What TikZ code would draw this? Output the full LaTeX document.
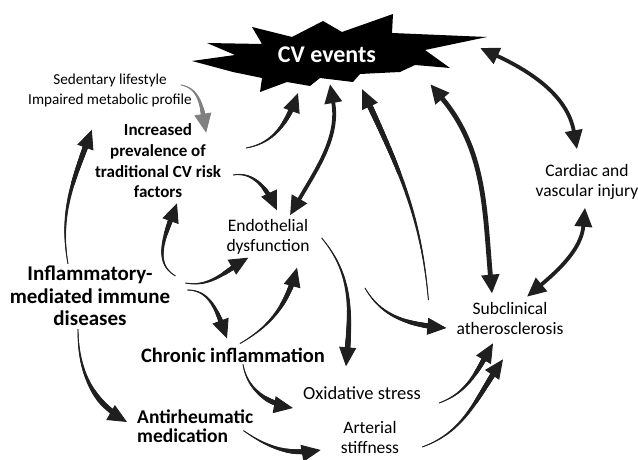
\documentclass[tikz,border=0pt]{standalone}
\usepackage{fontspec}
\setmainfont{Carlito}
\usetikzlibrary{arrows.meta,decorations.markings}

\begin{document}
\begin{tikzpicture}[x=1pt,y=1pt,
    lbl/.style={align=center, inner sep=0pt, font=\fontsize{17.5}{20}\selectfont},
    blbl/.style={align=center, inner sep=0pt, font=\bfseries\fontsize{17}{20.7}\selectfont},
    swoosh/.style={draw=#1, line width=0.9pt, -{Triangle[length=19pt,width=17pt]},
      postaction={decorate, decoration={markings,
        mark=between positions 0 and 1 step 0.7pt with {
          \pgfmathsetmacro\swd{\pgfkeysvalueof{/pgf/decoration/mark info/distance from start}}
          \pgfmathsetmacro\swl{\pgfdecoratedpathlength}
          \pgfmathsetmacro\swr{0.3+2.9*\swd/\swl}
          \ifdim\swd pt<\dimexpr\swl pt-14pt\relax \fill [#1] (0,0) circle (\swr pt);\fi}}}},
    swoosh/.default=black!88,
    dswoosh/.style={draw=black!88, line width=3.8pt,
      {Triangle[length=19pt,width=17pt]}-{Triangle[length=19pt,width=17pt]}}]
    \useasboundingbox (0,0) rectangle (638,460);
    % CV events burst
    \fill [black] (192,399) -- (235,405) -- (207,417) -- (262,416) -- (252,433) -- (292,423)
      -- (323,439) -- (342,428) -- (393,446) -- (392,427) -- (487,423) -- (425,410)
      -- (450,392) -- (415,395) -- (400,388) -- (360,386) -- (353,378) -- (320,382)
      -- (310,374) -- (287,378) -- (260,368) -- (262,382) -- (233,388) -- cycle;
    \node [text=white, inner sep=0pt, font=\bfseries\fontsize{24}{28}\selectfont] (cv) at (327,405) {CV events};
    \node [lbl, font=\fontsize{15.2}{20}\selectfont] (sed) at (110,370) {Sedentary lifestyle\\Impaired metabolic profile};
    \node [blbl] (risk) at (158,299) {Increased\\prevalence of\\traditional CV risk\\factors};
    \node [lbl] (endo) at (268,223) {Endothelial\\dysfunction};
    \node [blbl, font=\bfseries\fontsize{21}{22.5}\selectfont] (imid) at (90,164) {Inflammatory-\\mediated immune\\diseases};
    \node [blbl, font=\bfseries\fontsize{20.5}{22}\selectfont] (chronic) at (233,105) {Chronic inflammation};
    \node [blbl, align=left, anchor=west, font=\bfseries\fontsize{19.5}{19}\selectfont] (anti) at (137,34) {Antirheumatic\\medication};
    \node [lbl, font=\fontsize{18.5}{20}\selectfont] (ox) at (362,67) {Oxidative stress};
    \node [lbl] (art) at (370,23) {Arterial\\stiffness};
    \node [lbl] (sub) at (510,142) {Subclinical\\atherosclerosis};
    \node [lbl] (card) at (587,278) {Cardiac and\\vascular injury};
    \coordinate (fork) at (365,172);
    % arrows
    \draw [swoosh] ([shift={(-22,2)}]imid.north) to[out=100,in=250] ([shift={(-3,-6)}]risk.north west);
    \draw [swoosh=black!50] ([shift={(-11,5)}]sed.east) to[out=-10,in=100] ([shift={(-15,-9)}]risk.north east);
    \draw [swoosh] ([shift={(25,13)}]risk.east) to[out=10,in=250] ([shift={(-29,-30)}]cv.south);
    \draw [swoosh] ([shift={(12,-14)}]risk.east) to[out=10,in=115] ([shift={(9,9)}]endo.north);
    \draw [dswoosh] ([shift={(22,4)}]endo.north) to[out=60,in=-80] ([shift={(3,-21)}]cv.south);
    \draw [swoosh] ([shift={(5,-10)}]imid.north east) to[out=150,in=250] ([shift={(19,-5)}]risk.south);
    \draw [swoosh] ([shift={(15,13)}]imid.east) to[out=-10,in=210] ([shift={(22,-3)}]endo.south west);
    \draw [swoosh] ([shift={(17,6)}]imid.east) to[out=0,in=110] ([shift={(-6,9)}]chronic.north);
    \draw [swoosh] ([shift={(7,4)}]chronic.north) to[out=30,in=255] ([shift={(29,-13)}]endo.south);
    \draw [swoosh] ([shift={(12,-1)}]endo.east) to[out=-50,in=85] ([shift={(-16,20)}]ox.north);
    \draw [swoosh] ([shift={(-28,18)}]sub.west) to[out=95,in=-65] ([shift={(35,-26)}]cv.south);
    \draw [swoosh] (fork) to[out=-60,in=175] ([shift={(-10,-10)}]sub.west);
    \draw [dswoosh, line width=4.8pt] ([shift={(-18,8)}]sub.north) to[out=95,in=-50] ([shift={(54,-21)}]cv.south east);
    \draw [dswoosh] ([shift={(104,7)}]cv.east) to[out=-25,in=100] ([shift={(-10,15)}]card.north);
    \draw [dswoosh] ([shift={(-2,-8)}]card.south) to[out=-95,in=40] ([shift={(17,5)}]sub.north);
    \draw [swoosh] ([shift={(18,-10)}]ox.east) to[out=20,in=240] ([shift={(-17,-9)}]sub.south);
    \draw [swoosh] ([shift={(23,-10)}]art.east) to[out=20,in=235] ([shift={(-7,-25)}]sub.south);
    \draw [swoosh] ([shift={(-12,-3)}]imid.south) to[out=-90,in=150] ([shift={(-10,4)}]anti.west);
    \draw [swoosh] ([shift={(10,-2)}]chronic.south) to[out=-80,in=170] ([shift={(-10,-15)}]ox.west);
    \draw [swoosh] ([shift={(-10,12)}]anti.south east) to[out=-35,in=190] ([shift={(-20,-13)}]art.west);
\end{tikzpicture}
\end{document}
